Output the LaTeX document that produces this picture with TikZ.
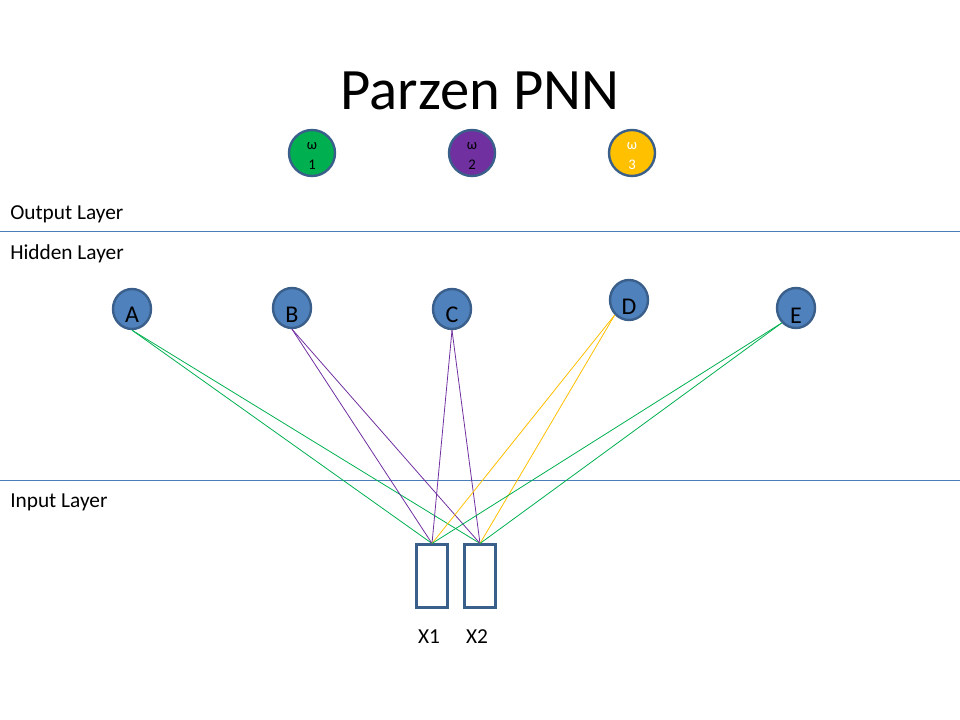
\documentclass[tikz,border=0pt]{standalone}
\usepackage{fontspec}
\setmainfont{Carlito}
\usetikzlibrary{shapes.geometric}
\begin{document}
\begin{tikzpicture}[x=0.75pt,y=-0.75pt,
  outc/.style={circle,draw=bordc,line width=1.8pt,minimum size=34.5pt,inner sep=0pt},
  outlab/.style={align=center,inner sep=0pt,font=\fontsize{11}{12}\selectfont},
  hid/.style={ellipse,draw=bordc,fill=blu,line width=1.8pt,minimum width=28.5pt,minimum height=30pt,inner sep=0pt},
  hidlab/.style={font=\fontsize{18}{18}\selectfont},
  inbox/.style={rectangle,draw=bordc,line width=1.8pt,minimum width=23pt,minimum height=47pt,inner sep=0pt},
  lay/.style={anchor=west,font=\fontsize{16}{16}\selectfont,inner sep=0pt},
  sep/.style={draw=sepc,line width=0.75pt},
  gl/.style={draw=grn,line width=0.6pt},
  pl/.style={draw=pur,line width=0.6pt},
  yl/.style={draw=yel,line width=0.6pt}]
\definecolor{bordc}{HTML}{3A5F8B}
\definecolor{blu}{HTML}{4F81BD}
\definecolor{sepc}{HTML}{4A7EBB}
\definecolor{grn}{HTML}{00B050}
\definecolor{pur}{HTML}{7030A0}
\definecolor{yel}{HTML}{FFC000}
\useasboundingbox (0,0) rectangle (960,720);
\node[font=\fontsize{44}{44}\selectfont] (title) at (480,91) {Parzen PNN};
\node[outc,fill=grn] (w1) at (312,153) {};
\node[outc,fill=pur] (w2) at (472,153) {};
\node[outc,fill=yel] (w3) at (632,153) {};
\node[outlab] (w1l) at (312,156) {ω\\[3pt]1};
\node[outlab] (w2l) at (472,156) {ω\\[3pt]2};
\node[outlab,text=white] (w3l) at (632,156) {ω\\[3pt]3};
\coordinate (s1l) at (0,232); \coordinate (s1r) at (960,232);
\coordinate (s2l) at (0,480); \coordinate (s2r) at (960,480);
\draw[sep] (s1l) -- (s1r);
\draw[sep] (s2l) -- (s2r);
\node[lay] (ol) at (10,214) {Output Layer};
\node[lay] (hl) at (10,254) {Hidden Layer};
\node[lay] (il) at (10,502) {Input Layer};
\node[inbox] (x1) at (432,576) {};
\node[inbox] (x2) at (480,576) {};
\node[font=\fontsize{16}{16}\selectfont] (x1l) at (429,637) {X1};
\node[font=\fontsize{16}{16}\selectfont] (x2l) at (477,637) {X2};
\node[hid] (A) at (132,309) {};
\node[hid] (B) at (292,308) {};
\node[hid] (C) at (452,309) {};
\node[hid] (D) at (629,300) {};
\node[hid] (E) at (796,308) {};
\draw[gl] (A.south) -- (x1.north);
\draw[gl] (A.south) -- (x2.north);
\draw[pl] (B.south) -- (x1.north);
\draw[pl] (B.south) -- (x2.north);
\draw[pl] (C.south) -- (x1.north);
\draw[pl] (C.south) -- (x2.north);
\draw[yl] (D.south west) -- (x1.north);
\draw[yl] (D.south west) -- (x2.north);
\draw[gl] (E.south west) -- (x1.north);
\draw[gl] (E.south west) -- (x2.north);
\node[hidlab] (Al) at (132,315) {A};
\node[hidlab] (Bl) at (292,315) {B};
\node[hidlab] (Cl) at (452,315) {C};
\node[hidlab] (Dl) at (629,307) {D};
\node[hidlab] (El) at (796,316) {E};
\end{tikzpicture}
\end{document}
